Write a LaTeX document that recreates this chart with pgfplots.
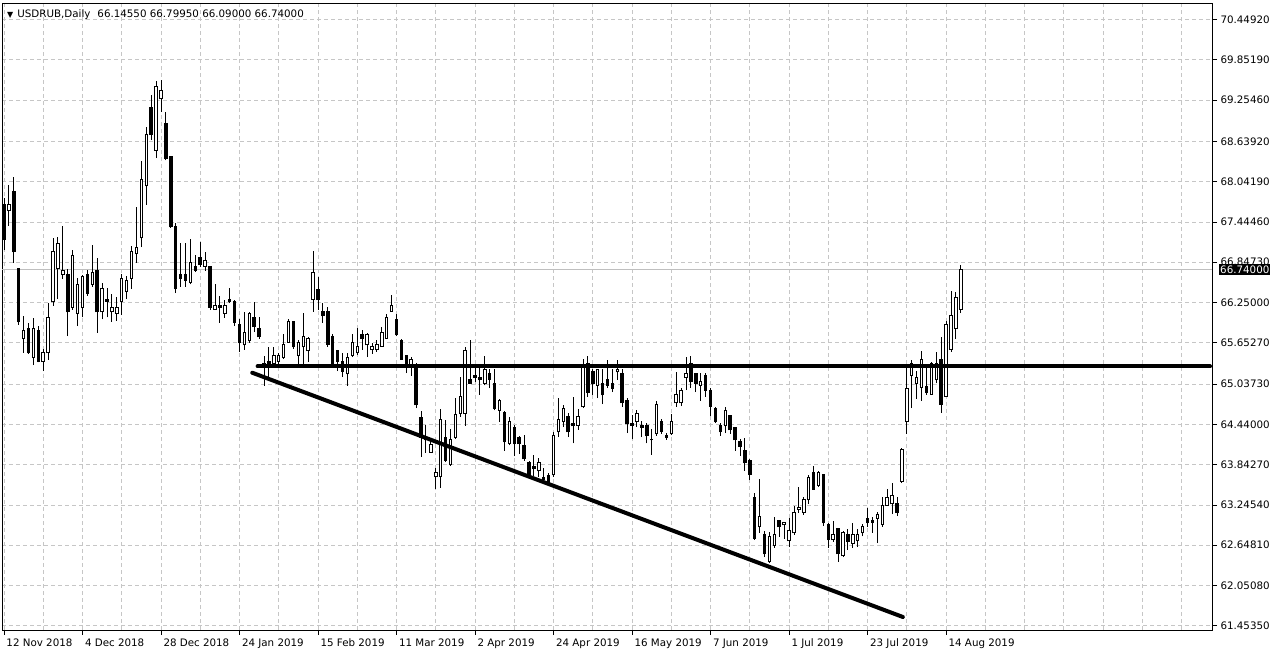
\documentclass[border=0pt]{standalone}
\usepackage{fontspec}
\setmainfont{DejaVu Sans}
\usepackage{pgfplots}
\usepackage{pgfplotstable}
\pgfplotsset{compat=1.18}

\pgfplotstableread{
i o h l c
0 67.70 67.80 67.03 67.18
1 67.62 67.99 67.39 67.71
2 67.90 68.11 66.84 67.00
3 66.75 66.76 65.92 65.96
4 65.72 66.05 65.50 65.83
5 65.87 65.95 65.49 65.50
6 65.43 66.02 65.32 65.86
7 65.83 65.90 65.36 65.37
8 65.38 65.56 65.23 65.50
9 65.50 66.24 65.40 66.02
10 66.26 67.21 66.20 67.00
11 66.76 67.22 66.30 67.13
12 66.67 67.39 66.60 66.72
13 66.66 66.75 65.75 66.11
14 66.18 67.03 66.14 66.95
15 66.09 66.61 65.90 66.51
16 66.17 66.66 66.03 66.63
17 66.66 66.73 66.35 66.39
18 66.52 67.10 66.48 66.70
19 66.73 66.91 65.80 66.11
20 66.11 66.54 66.00 66.45
21 66.30 66.46 66.03 66.27
22 66.11 66.38 65.96 66.18
23 66.09 66.33 65.98 66.18
24 66.26 66.67 66.06 66.60
25 66.41 66.64 66.30 66.57
26 66.61 67.09 66.45 67.00
27 66.97 67.67 66.84 67.06
28 67.21 68.35 67.07 68.08
29 67.98 68.85 67.70 68.74
30 69.15 69.33 68.66 68.74
31 68.51 69.54 68.39 69.45
32 69.27 69.55 69.08 69.39
33 68.90 69.08 68.36 68.39
34 68.42 68.43 67.36 67.37
35 67.37 67.43 66.39 66.45
36 66.66 67.13 66.48 66.61
37 66.67 67.13 66.48 66.58
38 66.55 67.19 66.52 66.84
39 66.78 66.95 66.70 66.73
40 66.92 67.15 66.78 66.81
41 66.79 67.00 66.72 66.87
42 66.78 66.79 66.14 66.18
43 66.15 66.52 66.14 66.21
44 66.20 66.35 65.95 66.18
45 66.09 66.29 66.02 66.21
46 66.29 66.46 66.24 66.26
47 66.26 66.29 65.90 65.95
48 65.93 66.00 65.52 65.65
49 65.62 66.11 65.55 65.81
50 65.68 66.11 65.65 66.09
51 66.02 66.26 65.81 65.89
52 65.86 66.03 65.71 65.74
53 65.35 65.46 65.01 65.29
54 65.37 65.59 65.14 65.31
55 65.35 65.59 65.34 65.46
56 65.38 65.50 65.32 65.46
57 65.43 65.78 65.41 65.63
58 65.66 66.00 65.65 65.96
59 65.96 65.97 65.56 65.59
60 65.46 65.69 65.34 65.65
61 65.59 66.09 65.34 65.74
62 65.53 65.74 65.37 65.71
63 66.30 67.01 66.11 66.70
64 66.44 66.63 66.14 66.30
65 66.11 66.24 65.95 66.05
66 66.11 66.18 65.59 65.63
67 65.75 65.78 65.29 65.34
68 65.53 65.55 65.23 65.38
69 65.37 65.50 65.14 65.23
70 65.19 65.50 65.01 65.44
71 65.46 65.78 65.44 65.66
72 65.50 65.87 65.47 65.60
73 65.77 65.84 65.55 65.71
74 65.62 65.80 65.44 65.78
75 65.55 65.65 65.49 65.59
76 65.55 65.69 65.52 65.62
77 65.60 65.89 65.59 65.80
78 65.72 66.08 65.71 66.02
79 66.12 66.36 66.11 66.21
80 66.00 66.08 65.75 65.77
81 65.69 65.71 65.40 65.41
82 65.46 65.47 65.20 65.31
83 65.31 65.44 65.16 65.41
84 65.32 65.35 64.68 64.73
85 64.54 64.64 63.96 64.25
86 64.25 64.43 64.02 64.21
87 64.03 64.24 64.02 64.14
88 63.66 63.79 63.48 63.73
89 63.66 64.67 63.50 64.52
90 64.25 64.51 63.88 63.91
91 63.84 64.37 63.82 64.22
92 64.25 64.83 64.23 64.58
93 64.60 65.14 64.55 64.85
94 64.60 65.59 64.42 65.53
95 65.10 65.69 65.04 65.05
96 65.17 65.29 65.07 65.14
97 65.13 65.28 64.88 65.10
98 65.05 65.46 65.02 65.26
99 65.20 65.26 64.98 65.11
100 65.05 65.26 64.65 64.68
101 64.65 64.82 64.48 64.79
102 64.62 64.64 64.05 64.18
103 64.16 64.55 64.13 64.49
104 64.40 64.43 63.97 64.15
105 64.25 64.27 64.00 64.15
106 64.12 64.28 63.90 63.93
107 63.88 63.90 63.66 63.69
108 63.81 63.99 63.67 63.79
109 63.75 63.94 63.66 63.88
110 63.65 63.79 63.59 63.62
111 63.68 63.72 63.56 63.57
112 63.69 64.33 63.66 64.27
113 64.33 64.83 64.25 64.51
114 64.48 64.73 64.40 64.68
115 64.55 64.61 64.25 64.33
116 64.45 64.85 64.16 64.42
117 64.43 64.67 64.36 64.55
118 64.70 65.41 64.68 65.31
119 65.35 65.46 64.85 64.92
120 65.22 65.26 64.88 65.04
121 65.02 65.26 64.83 65.25
122 65.04 65.26 64.74 64.88
123 65.11 65.40 64.98 65.02
124 65.05 65.26 64.92 64.98
125 65.22 65.40 65.10 65.26
126 65.19 65.26 64.70 64.76
127 64.79 64.83 64.31 64.45
128 64.46 64.58 64.22 64.43
129 64.49 64.65 64.40 64.60
130 64.42 64.49 64.25 64.40
131 64.42 64.46 64.16 64.27
132 64.22 64.37 63.99 64.21
133 64.30 64.79 64.27 64.73
134 64.48 64.52 64.30 64.34
135 64.27 64.31 64.21 64.25
136 64.30 64.60 64.28 64.49
137 64.76 65.22 64.70 64.88
138 64.76 64.98 64.71 64.95
139 65.14 65.44 64.95 65.19
140 65.35 65.46 64.98 65.07
141 65.19 65.20 64.92 65.05
142 65.02 65.20 64.79 65.08
143 65.16 65.20 64.85 64.95
144 64.94 64.98 64.56 64.71
145 64.67 64.70 64.46 64.48
146 64.43 64.46 64.27 64.33
147 64.42 64.70 64.31 64.65
148 64.57 64.58 64.30 64.36
149 64.39 64.40 64.05 64.21
150 64.18 64.22 63.97 64.11
151 64.05 64.24 63.75 63.87
152 63.90 63.93 63.62 63.70
153 63.36 63.42 62.73 62.75
154 62.92 63.63 62.83 63.07
155 62.80 62.86 62.47 62.52
156 62.40 62.84 62.38 62.78
157 62.65 63.07 62.61 62.80
158 63.01 63.02 62.77 62.92
159 62.95 62.99 62.74 62.98
160 62.71 63.05 62.62 62.87
161 62.83 63.23 62.80 63.14
162 63.18 63.51 63.13 63.21
163 63.13 63.36 63.10 63.33
164 63.32 63.69 63.26 63.65
165 63.73 63.82 63.47 63.48
166 63.54 63.75 63.51 63.72
167 63.69 63.71 62.93 62.98
168 62.96 62.98 62.61 62.73
169 62.73 63.01 62.70 62.81
170 62.89 62.90 62.40 62.52
171 62.49 62.86 62.47 62.84
172 62.81 62.89 62.58 62.70
173 62.67 62.98 62.61 62.81
174 62.71 62.89 62.62 62.81
175 62.83 62.96 62.78 62.92
176 63.05 63.20 62.92 62.98
177 63.02 63.07 62.83 62.99
178 63.05 63.14 62.68 63.10
179 62.96 63.36 62.92 63.24
180 63.24 63.48 63.23 63.35
181 63.26 63.57 63.11 63.38
182 63.26 63.36 63.08 63.13
183 63.60 64.09 63.57 64.07
184 64.48 65.29 64.30 64.98
185 65.17 65.40 64.68 65.35
186 65.05 65.23 64.82 65.13
187 64.99 65.53 64.79 65.40
188 65.01 65.31 64.88 64.91
189 64.89 65.37 64.88 65.34
190 65.10 65.52 65.05 65.35
191 65.40 65.74 64.61 64.74
192 64.86 65.98 64.85 65.93
193 65.55 66.42 65.52 66.05
194 65.86 66.40 65.71 66.32
195 66.1455 66.7995 66.09 66.74
}\candles

\begin{document}
\begin{tikzpicture}
\useasboundingbox (0,0) rectangle (1280pt,652pt);
\begin{axis}[
  at={(2pt,22pt)}, anchor=south west,
  width=1210pt, height=627pt, scale only axis,
  xmin=-0.4, xmax=246.2, ymin=61.389, ymax=70.694,
  clip mode=individual,
  axis line style={black, line width=0.8pt},
  xtick={0,16,...,192},
  xticklabels={12 Nov 2018, 4 Dec 2018, 28 Dec 2018, 24 Jan 2019, 15 Feb 2019, 11 Mar 2019, 2 Apr 2019, 24 Apr 2019, 16 May 2019, 7 Jun 2019, 1 Jul 2019, 23 Jul 2019, 14 Aug 2019},
  minor xtick={8,24,...,184,200,208,...,240},
  xtick pos=left,
  xticklabel style={anchor=north west, xshift=-1pt},
  ytick={61.4535,62.0508,62.6481,63.2454,63.8427,64.44,65.0373,65.6527,66.25,66.8473,67.4446,68.0419,68.6392,69.2546,69.8519,70.4492},
  yticklabels={61.45350,62.05080,62.64810,63.24540,63.84270,64.44000,65.03730,65.65270,66.25000,66.84730,67.44460,68.04190,68.63920,69.25460,69.85190,70.44920},
  ytick pos=right, yticklabel pos=right,
  yticklabel style={anchor=west},
  tick align=outside, major tick length=5pt, minor tick length=0pt,
  tick style={black, line width=0.6pt},
  xmajorgrids, xminorgrids, ymajorgrids,
  major grid style={gray!45, dash pattern=on 4pt off 3pt, line width=0.7pt},
  minor grid style={gray!45, dash pattern=on 4pt off 3pt, line width=0.7pt},
  tick label style={font=\fontsize{10.3}{12}\selectfont},
]
% current price line
\addplot[gray!50, line width=0.7pt, forget plot] coordinates {(-0.4,66.74) (246.2,66.74)};
% wicks
\addplot[draw=none, mark=none, forget plot,
  error bars/.cd, y dir=plus, y explicit, error mark=none,
  error bar style={draw=black, solid, line width=0.9pt}]
  table[x=i, y=l, y error expr=\thisrow{h}-\thisrow{l}] {\candles};
% bodies (outline / bearish fill)
\addplot[draw=none, mark=none, forget plot,
  error bars/.cd, y dir=plus, y explicit, error mark=none,
  error bar style={draw=black, solid, line width=3.5pt, line cap=butt}]
  table[x=i, y expr={min(\thisrow{o},\thisrow{c})-0.0074}, y error expr={abs(\thisrow{c}-\thisrow{o})+0.0148}] {\candles};
% bullish interior
\addplot[draw=none, mark=none, forget plot,
  error bars/.cd, y dir=plus, y explicit, error mark=none,
  error bar style={draw=white, solid, line width=1.5pt, line cap=butt}]
  table[x=i, y expr={\thisrow{o}+0.0074}, y error expr={(\thisrow{c}>\thisrow{o})*max(0,\thisrow{c}-\thisrow{o}-0.0148)}] {\candles};
% support line and falling trend line
\addplot[black, line width=4pt, line cap=round, forget plot] coordinates {(51.7,65.30) (245.8,65.30)};
\addplot[black, line width=4pt, line cap=round, forget plot] coordinates {(50.6,65.207) (183.2,61.582)};
% current price box
\node[fill=black, text=white, anchor=west, inner xsep=1pt, inner ysep=1.5pt, font=\fontsize{10.3}{12}\selectfont, xshift=7pt] at (axis cs:246.2,66.74) {66.74000};
% header
\node[anchor=north west, inner sep=0pt, font=\fontsize{10.3}{12}\selectfont, xshift=5pt, yshift=-6pt] at (rel axis cs:0,1) {{\fontsize{8}{8}\selectfont ▼}\hspace{4pt}USDRUB,Daily\hspace{7pt}66.14550 66.79950 66.09000 66.74000};
\end{axis}
\end{tikzpicture}
\end{document}
